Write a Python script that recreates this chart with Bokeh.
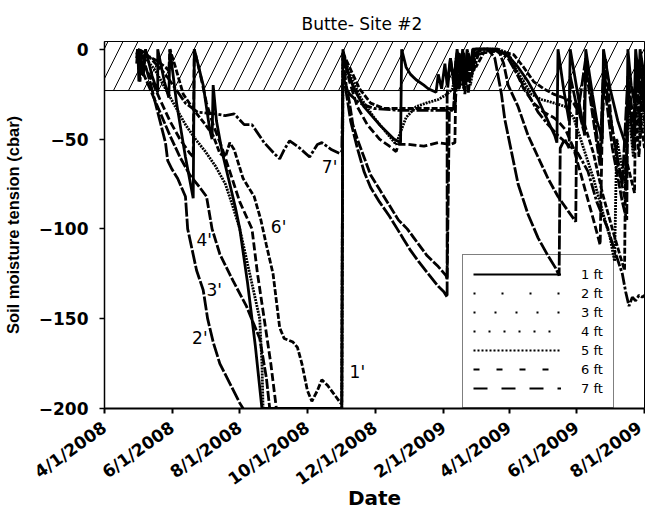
from datetime import datetime
import pandas as pd
from bokeh.plotting import figure
from bokeh.models import Range1d, FixedTicker, Legend, LegendItem, Title
from bokeh.core.properties import value
from bokeh.embed import file_html
from bokeh.resources import INLINE

WIDE = "DejaVu Sans"
ARIAL = "Liberation Sans"

# ---------------- data ----------------
x_tick_labels = ["4/1/2008", "6/1/2008", "8/1/2008", "10/1/2008", "12/1/2008",
                 "2/1/2009", "4/1/2009", "6/1/2009", "8/1/2009"]
y_ticks = [0, -50, -100, -150, -200]
x_start, x_end = "2008-04-01", "2009-08-01"
y_min, y_max = -200, 4.3
band_low, band_high = -23, 4.3   # hatched band

# None = no reading (sensor off scale)
series_1ft = [
    ("2008-04-30", -3), ("2008-05-01", 0), ("2008-05-02", -18), ("2008-05-03", 0), ("2008-05-06", -15),
    ("2008-05-08", 0), ("2008-05-14", -15), ("2008-05-19", -24), ("2008-05-19", 0), ("2008-05-25", -18),
    ("2008-05-29", -27), ("2008-05-30", 0), ("2008-06-05", -30), ("2008-06-13", -60), ("2008-06-20", -83),
    ("2008-06-21", 0), ("2008-06-29", -20), ("2008-07-05", -45), ("2008-07-07", -50), ("2008-07-08", -20),
    ("2008-07-11", -40), ("2008-07-16", -57), ("2008-07-23", -75), ("2008-07-28", -88), ("2008-08-01", -100),
    ("2008-08-08", -130), ("2008-08-15", -165), ("2008-08-21", -200), ("2008-11-01", -200), ("2008-11-02", 0),
    ("2008-11-06", -12), ("2008-11-12", -22), ("2008-11-21", -32), ("2008-12-05", -42), ("2008-12-18", -50),
    ("2008-12-24", -52), ("2008-12-25", 0), ("2008-12-29", -10), ("2009-01-02", -14), ("2009-01-07", -17),
    ("2009-01-14", -20), ("2009-01-18", -22), ("2009-01-25", -24), ("2009-01-27", -14), ("2009-01-30", -22),
    ("2009-02-02", -8), ("2009-02-04", -20), ("2009-02-07", -5), ("2009-02-10", -18), ("2009-02-13", 0),
    ("2009-02-16", -15), ("2009-02-18", 0), ("2009-02-21", -20), ("2009-02-22", -3), ("2009-02-25", -12),
    ("2009-02-27", 0), ("2009-03-04", 0), ("2009-03-18", 0), ("2009-03-27", -2), ("2009-04-02", -5),
    ("2009-04-09", -10), ("2009-04-18", -18), ("2009-04-27", -28), ("2009-05-06", -40), ("2009-05-12", -48),
    ("2009-05-14", -52), ("2009-05-15", 0), ("2009-05-20", -22), ("2009-05-25", -40), ("2009-05-26", 0),
    ("2009-06-01", -22), ("2009-06-08", -48), ("2009-06-09", 0), ("2009-06-15", -25), ("2009-06-19", -40),
    ("2009-06-24", -50), ("2009-06-25", 0), ("2009-07-01", -22), ("2009-07-08", -40), ("2009-07-16", -55),
    ("2009-07-17", 0), ("2009-07-20", -20), ("2009-07-23", -30), ("2009-07-24", 0), ("2009-07-27", -18),
    ("2009-07-28", 0), ("2009-07-31", -12), ("2009-08-01", -15),
]

series_2ft = [
    ("2008-04-30", -5), ("2008-05-01", 0), ("2008-05-03", -18), ("2008-05-05", -3), ("2008-05-12", -18),
    ("2008-05-19", -35), ("2008-05-26", -52), ("2008-05-28", -62), ("2008-06-01", -67), ("2008-06-06", -72),
    ("2008-06-13", -82), ("2008-06-15", -100), ("2008-06-23", -123), ("2008-06-29", -134), ("2008-07-03", -150),
    ("2008-07-08", -163), ("2008-07-14", -175), ("2008-07-23", -186), ("2008-08-01", -197), ("2008-08-04", -200),
    ("2008-08-05", None), ("2008-11-02", -12), ("2008-11-06", -28), ("2008-11-09", -40), ("2008-11-15", -55),
    ("2008-11-21", -68), ("2008-11-27", -77), ("2008-12-05", -85), ("2008-12-14", -93), ("2008-12-21", -100),
    ("2008-12-27", -106), ("2009-01-02", -112), ("2009-01-09", -118), ("2009-01-18", -125), ("2009-01-27", -132),
    ("2009-02-01", -135), ("2009-02-04", -138), ("2009-02-04", -25), ("2009-02-07", -5), ("2009-02-10", -20),
    ("2009-02-13", -2), ("2009-02-15", -22), ("2009-02-17", -3), ("2009-02-20", -18), ("2009-02-22", 0),
    ("2009-02-25", -8), ("2009-03-01", 0), ("2009-03-13", 0), ("2009-03-19", -5), ("2009-03-25", -25),
    ("2009-03-28", -39), ("2009-04-03", -57), ("2009-04-09", -75), ("2009-04-18", -92), ("2009-04-27", -105),
    ("2009-05-06", -115), ("2009-05-13", -122), ("2009-05-16", -126), ("2009-05-17", -55), ("2009-05-21", -50),
    ("2009-05-25", -55), ("2009-05-26", -15), ("2009-06-02", -35), ("2009-06-09", -5), ("2009-06-16", -35),
    ("2009-06-22", -60), ("2009-06-25", -10), ("2009-07-03", -45), ("2009-07-12", -75), ("2009-07-17", -15),
    ("2009-07-23", -45), ("2009-07-24", -5), ("2009-07-28", -30), ("2009-07-29", -5), ("2009-08-01", -30),
]

series_3ft = [
    ("2008-04-30", -8), ("2008-05-01", 0), ("2008-05-05", -12), ("2008-05-12", -22), ("2008-05-21", -35),
    ("2008-05-30", -48), ("2008-06-08", -60), ("2008-06-17", -70), ("2008-06-26", -77), ("2008-07-02", -82),
    ("2008-07-07", -100), ("2008-07-14", -114), ("2008-07-26", -129), ("2008-08-07", -143), ("2008-08-19", -161),
    ("2008-08-25", -183), ("2008-08-28", -200), ("2008-08-29", None), ("2008-11-02", -5), ("2008-11-05", -20),
    ("2008-11-08", -30), ("2008-11-11", -42), ("2008-11-15", -50), ("2008-11-21", -60), ("2008-11-27", -70),
    ("2008-12-05", -78), ("2008-12-12", -85), ("2008-12-22", -95), ("2008-12-30", -100), ("2009-01-05", -105),
    ("2009-01-17", -115), ("2009-01-27", -121), ("2009-02-03", -126), ("2009-02-04", -128), ("2009-02-06", -35),
    ("2009-02-10", -33), ("2009-02-12", -10), ("2009-02-14", -22), ("2009-02-16", -5), ("2009-02-20", -25),
    ("2009-02-22", -6), ("2009-02-26", -15), ("2009-03-02", -2), ("2009-03-09", 0), ("2009-03-22", 0),
    ("2009-03-27", -8), ("2009-03-31", -20), ("2009-04-09", -32), ("2009-04-18", -48), ("2009-04-27", -60),
    ("2009-05-06", -72), ("2009-05-15", -82), ("2009-05-24", -90), ("2009-05-31", -96), ("2009-06-01", -30),
    ("2009-06-07", -45), ("2009-06-09", -10), ("2009-06-16", -40), ("2009-06-22", -65), ("2009-06-25", -15),
    ("2009-07-03", -55), ("2009-07-12", -85), ("2009-07-16", -95), ("2009-07-17", -20), ("2009-07-23", -55),
    ("2009-07-24", -10), ("2009-07-28", -40), ("2009-07-30", -15), ("2009-08-01", -35),
]

series_4ft = [
    ("2008-05-01", -2), ("2008-05-03", -5), ("2008-05-12", -15), ("2008-05-21", -28), ("2008-05-30", -40),
    ("2008-06-08", -50), ("2008-06-17", -58), ("2008-06-20", -60), ("2008-06-21", 0), ("2008-06-26", -13),
    ("2008-07-02", -30), ("2008-07-08", -42), ("2008-07-16", -55), ("2008-07-23", -68), ("2008-08-01", -85),
    ("2008-08-12", -100), ("2008-08-17", -125), ("2008-08-23", -150), ("2008-08-29", -175), ("2008-09-03", -200),
    ("2008-09-04", None), ("2008-11-02", -3), ("2008-11-08", -18), ("2008-11-15", -32), ("2008-11-24", -42),
    ("2008-12-05", -50), ("2008-12-14", -54), ("2008-12-20", -57), ("2008-12-22", -53), ("2008-12-31", -53),
    ("2009-01-14", -54), ("2009-01-27", -52), ("2009-02-07", -53), ("2009-02-11", -52), ("2009-02-12", -15),
    ("2009-02-14", -3), ("2009-02-18", -20), ("2009-02-21", -5), ("2009-02-23", -25), ("2009-02-26", -8),
    ("2009-03-02", 0), ("2009-03-13", 0), ("2009-03-31", -3), ("2009-04-07", -12), ("2009-04-14", -22),
    ("2009-04-23", -30), ("2009-05-02", -35), ("2009-05-11", -38), ("2009-05-15", -40), ("2009-05-22", -45),
    ("2009-05-29", -55), ("2009-06-07", -75), ("2009-06-16", -95), ("2009-06-22", -109), ("2009-06-24", -40),
    ("2009-06-27", -5), ("2009-07-02", -40), ("2009-07-08", -65), ("2009-07-15", -85), ("2009-07-17", -25),
    ("2009-07-22", -55), ("2009-07-24", -15), ("2009-07-28", -45), ("2009-07-30", -20), ("2009-08-01", -40),
]

series_5ft = [
    ("2008-05-01", -1), ("2008-05-08", -5), ("2008-05-17", -12), ("2008-05-26", -22), ("2008-06-04", -32),
    ("2008-06-13", -42), ("2008-06-22", -50), ("2008-07-01", -57), ("2008-07-10", -65), ("2008-07-19", -75),
    ("2008-07-26", -88), ("2008-08-01", -100), ("2008-08-10", -125), ("2008-08-19", -150), ("2008-08-21", -175),
    ("2008-08-22", -200), ("2008-11-01", -200), ("2008-11-02", -2), ("2008-11-09", -15), ("2008-11-18", -27),
    ("2008-11-30", -38), ("2008-12-12", -47), ("2008-12-20", -53), ("2008-12-24", -46), ("2008-12-29", -38),
    ("2009-01-07", -32), ("2009-01-16", -30), ("2009-01-27", -28), ("2009-02-04", -25), ("2009-02-09", -22),
    ("2009-02-12", -8), ("2009-02-15", -2), ("2009-02-19", -22), ("2009-02-22", -8), ("2009-02-25", -20),
    ("2009-03-01", -5), ("2009-03-06", 0), ("2009-03-22", 0), ("2009-03-31", -2), ("2009-04-06", -10),
    ("2009-04-14", -18), ("2009-04-21", -25), ("2009-04-30", -28), ("2009-05-12", -30), ("2009-05-22", -32),
    ("2009-05-29", -38), ("2009-06-07", -55), ("2009-06-16", -72), ("2009-06-24", -90), ("2009-07-01", -105),
    ("2009-07-05", -118), ("2009-07-07", -50), ("2009-07-10", -60), ("2009-07-15", -75), ("2009-07-17", -30),
    ("2009-07-22", -60), ("2009-07-24", -20), ("2009-07-28", -50), ("2009-07-30", -25), ("2009-08-01", -45),
]

series_6ft = [
    ("2008-05-01", -1), ("2008-05-08", -3), ("2008-05-17", -6), ("2008-05-26", -10), ("2008-05-29", -12),
    ("2008-05-30", 0), ("2008-06-04", -10), ("2008-06-11", -25), ("2008-06-22", -35), ("2008-07-01", -42),
    ("2008-07-08", -48), ("2008-07-14", -58), ("2008-07-19", -60), ("2008-07-23", -52), ("2008-07-27", -56),
    ("2008-08-04", -72), ("2008-08-14", -82), ("2008-08-20", -95), ("2008-08-25", -109), ("2008-08-31", -125),
    ("2008-09-06", -155), ("2008-09-10", -161), ("2008-09-18", -163), ("2008-09-22", -166), ("2008-09-26", -175),
    ("2008-10-01", -190), ("2008-10-05", -196), ("2008-10-10", -190), ("2008-10-14", -184), ("2008-10-19", -187),
    ("2008-10-25", -192), ("2008-10-31", -197), ("2008-11-01", -197), ("2008-11-02", -2), ("2008-11-08", -10),
    ("2008-11-17", -22), ("2008-11-27", -30), ("2008-12-09", -33), ("2008-12-22", -33), ("2009-01-09", -33),
    ("2009-01-27", -33), ("2009-02-10", -33), ("2009-02-12", -5), ("2009-02-16", -12), ("2009-02-19", -2),
    ("2009-02-22", -18), ("2009-02-26", -4), ("2009-03-02", -10), ("2009-03-09", -2), ("2009-03-22", -1),
    ("2009-04-05", -3), ("2009-04-14", -10), ("2009-04-23", -18), ("2009-05-02", -22), ("2009-05-11", -25),
    ("2009-05-20", -27), ("2009-05-29", -30), ("2009-06-07", -40), ("2009-06-16", -58), ("2009-06-24", -80),
    ("2009-07-03", -100), ("2009-07-10", -115), ("2009-07-14", -123), ("2009-07-15", -60), ("2009-07-19", -70),
    ("2009-07-23", -80), ("2009-07-24", -30), ("2009-07-27", -60), ("2009-07-29", -40), ("2009-08-01", -55),
]

series_7ft = [
    ("2008-05-01", 0), ("2008-05-08", -2), ("2008-05-17", -8), ("2008-05-26", -14), ("2008-06-04", -22),
    ("2008-06-13", -30), ("2008-06-24", -35), ("2008-07-10", -36), ("2008-07-19", -37), ("2008-07-27", -36),
    ("2008-08-05", -42), ("2008-08-12", -42), ("2008-08-23", -52), ("2008-09-01", -58), ("2008-09-06", -61),
    ("2008-09-10", -56), ("2008-09-15", -51), ("2008-09-24", -55), ("2008-10-03", -60), ("2008-10-10", -53),
    ("2008-10-14", -52), ("2008-10-23", -56), ("2008-10-30", -58), ("2008-11-01", -57), ("2008-11-02", -18),
    ("2008-11-08", -25), ("2008-11-17", -30), ("2008-11-30", -33), ("2008-12-22", -34), ("2009-01-18", -34),
    ("2009-02-11", -34), ("2009-02-13", -12), ("2009-02-16", -3), ("2009-02-20", -15), ("2009-02-23", -2),
    ("2009-02-28", -12), ("2009-03-04", -3), ("2009-03-18", 0), ("2009-03-31", -5), ("2009-04-09", -15),
    ("2009-04-18", -25), ("2009-04-27", -35), ("2009-05-06", -42), ("2009-05-15", -48), ("2009-05-24", -53),
    ("2009-06-02", -58), ("2009-06-11", -68), ("2009-06-19", -85), ("2009-06-29", -100), ("2009-07-05", -112),
    ("2009-07-12", -125), ("2009-07-15", -135), ("2009-07-18", -143), ("2009-07-21", -138), ("2009-07-24", -140),
    ("2009-07-27", -137), ("2009-07-30", -138), ("2009-08-01", -137),
]

series_names = ["1 ft", "2 ft", "3 ft", "4 ft", "5 ft", "6 ft", "7 ft"]
series_data = [series_1ft, series_2ft, series_3ft, series_4ft, series_5ft, series_6ft, series_7ft]

# depth labels written on the chart
label_text = ["1'", "2'", "3'", "4'", "6'", "7'"]
label_dates = ["2008-11-15", "2008-06-26", "2008-07-09", "2008-06-30", "2008-09-05", "2008-10-21"]
label_vals = [-179.5, -160.5, -134, -106, -99, -65.4]

title_text = "Butte- Site #2"
x_title = "Date"
y_title = "Soil moisture tension (cbar)"

# ---------------- styles ----------------
plot_dash = ["solid", "14 2", "10 2", "8 3", "2 1", "6 2", "12 2 3 2"]
legend_dash = ["solid", "2 26", "2 19", "2 13", "2 2", "6 17", "14 14"]


def ts(s):
    return pd.Timestamp(s)


def ms(dt):
    return (dt - datetime(1970, 1, 1)).total_seconds() * 1000.0


W, H = 645, 513
BL, BR, BT, BB = 104, 1, 41, 94
p = figure(width=W, height=H, x_axis_type="datetime", output_backend="svg",
           toolbar_location=None,
           x_range=Range1d(ts(x_start), ts(x_end)), y_range=Range1d(y_min, y_max),
           min_border_left=BL, min_border_right=BR, min_border_top=BT, min_border_bottom=BB)
p.background_fill_color = "white"
p.border_fill_color = "white"
p.outline_line_color = "black"
p.outline_line_width = 1
p.xgrid.visible = False
p.ygrid.visible = False

# hatched band
p.quad(left=[ts(x_start)], right=[ts(x_end)], bottom=[band_low], top=[band_high],
       fill_color=None, line_color="black", line_width=1,
       hatch_pattern="/", hatch_color="black", hatch_scale=30, hatch_weight=1)

for name, data, dash in zip(series_names, series_data, plot_dash):
    xs = [ts(d) for d, _ in data]
    ys = [float("nan") if v is None else v for _, v in data]
    p.line(xs, ys, line_color="black", line_width=2.8, line_dash=dash)

# legend (style samples only; NaN data draws nothing in the plot)
items = []
for name, dash in zip(series_names, legend_dash):
    r = p.line(x=[float("nan")], y=[float("nan")], line_color="black", line_width=2, line_dash=dash)
    items.append(LegendItem(label=name, renderers=[r]))
legend = Legend(items=items, location=(358, 0), margin=0, padding=10, spacing=1,
                glyph_width=88, glyph_height=18, label_height=18, label_standoff=20,
                label_text_font=WIDE, label_text_font_size="13px", label_text_color="black",
                border_line_color="black", border_line_width=1, background_fill_alpha=0)
p.add_layout(legend)

# depth labels
p.text(x=[ts(d) for d in label_dates], y=label_vals, text=label_text,
       text_align="center", text_baseline="middle",
       text_font=value(WIDE), text_font_size="17px", text_color="black")

# axes
tick_dates = [datetime.strptime(s, "%m/%d/%Y") for s in x_tick_labels]
tick_ms = [ms(d) for d in tick_dates]
p.xaxis.ticker = FixedTicker(ticks=tick_ms)
p.xaxis.major_label_overrides = {t: s for t, s in zip(tick_ms, x_tick_labels)}
p.xaxis.major_label_orientation = 0.62
p.xaxis.axis_label = x_title
p.yaxis.ticker = FixedTicker(ticks=y_ticks)
p.yaxis.axis_label = y_title

for ax in (p.xaxis[0], p.yaxis[0]):
    ax.minor_tick_line_color = None
    ax.major_tick_in = 0
    ax.major_tick_out = 5
    ax.major_tick_line_color = "black"
    ax.axis_line_color = "black"
    ax.major_label_text_font = WIDE
    ax.major_label_text_font_style = "bold"
    ax.major_label_text_color = "black"
    ax.major_label_text_font_size = "17px"
    ax.axis_label_text_font_style = "bold"
    ax.axis_label_text_color = "black"

p.xaxis.axis_line_width = 2
p.xaxis.major_tick_line_width = 2
p.xaxis.major_label_standoff = 12
p.xaxis.axis_label_text_font = WIDE
p.xaxis.axis_label_text_font_size = "20px"
p.xaxis.axis_label_standoff = -14
p.yaxis.axis_line_width = 1.5
p.yaxis.major_tick_line_width = 1.5
p.yaxis.major_label_standoff = 11
p.yaxis.axis_label_text_font = ARIAL
p.yaxis.axis_label_text_font_size = "16.5px"
p.yaxis.axis_label_standoff = 14

p.add_layout(Title(text=title_text, align="left", offset=197, standoff=16,
                   text_font=WIDE, text_font_size="17px", text_font_style="normal",
                   text_color="black"), "above")

open("out.html", "w").write(file_html(p, INLINE))
